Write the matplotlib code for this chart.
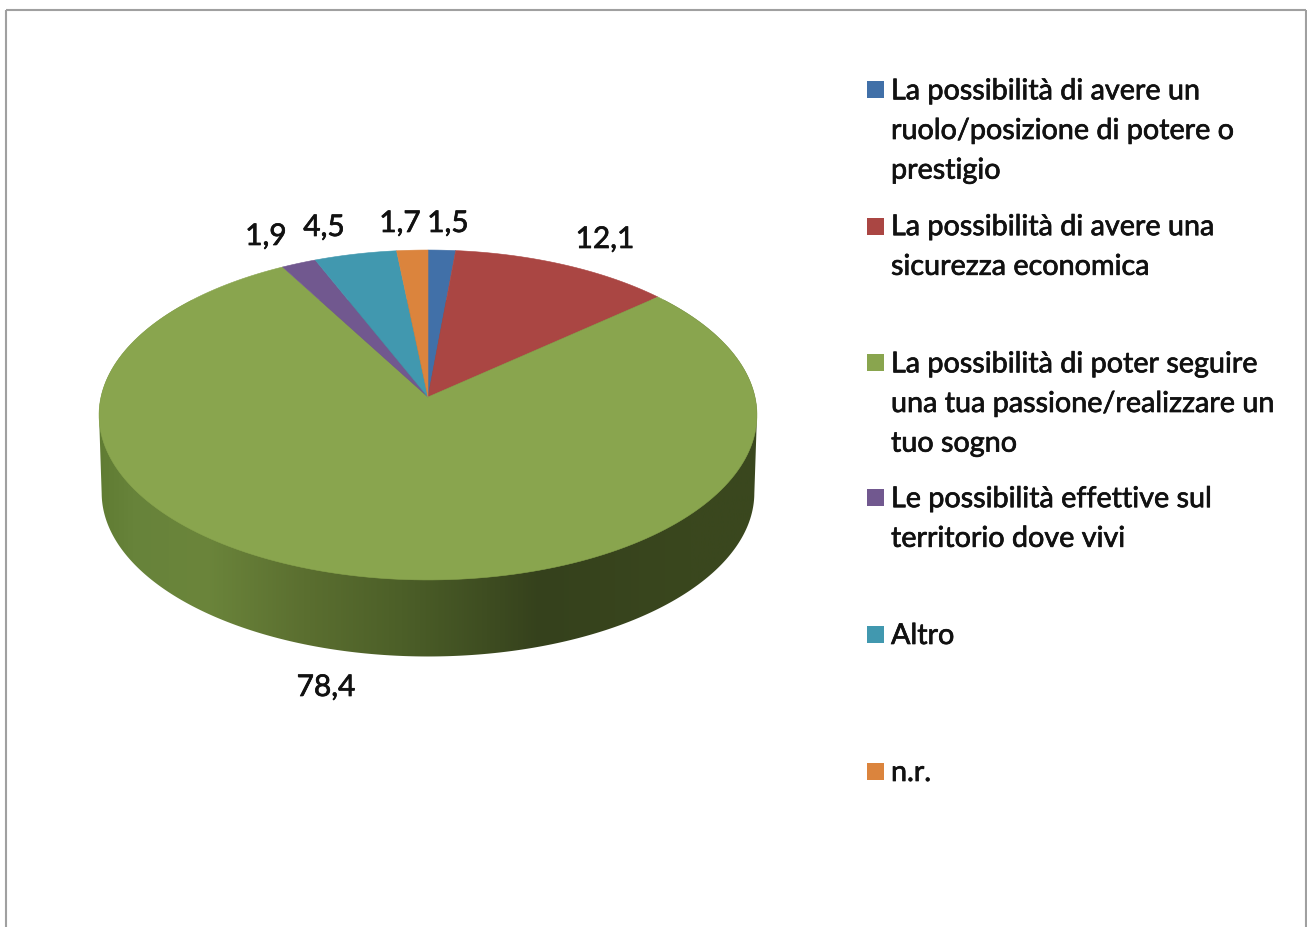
"""3D-looking pie chart with a legend on the right, drawn in pixel coordinates."""

import matplotlib

matplotlib.use("Agg")

import matplotlib.patheffects as pe
import matplotlib.pyplot as plt
import numpy as np
from matplotlib.colors import LinearSegmentedColormap
from matplotlib.patches import Polygon, Rectangle

WIDTH, HEIGHT = 1307, 927
FONT = "Lato"

LEGEND_LABELS = [
    "La possibilità di avere un\nruolo/posizione di potere o\nprestigio",
    "La possibilità di avere una\nsicurezza economica",
    "La possibilità di poter seguire\nuna tua passione/realizzare un\ntuo sogno",
    "Le possibilità effettive sul\nterritorio dove vivi",
    "Altro",
    "n.r.",
]
VALUES = [1.5, 12.1, 78.4, 1.9, 4.5, 1.7]
VALUE_LABELS = ["1,5", "12,1", "78,4", "1,9", "4,5", "1,7"]

COLORS = ["#4170a8", "#aa4643", "#89a54e", "#71588f", "#4198af", "#db843d"]
LABEL_POS = [(448, 223), (605, 239), (326, 687), (266, 236), (324, 227), (400, 223)]
LEGEND_Y = [131, 247, 404, 519, 636, 773]
SWATCH_Y = [89, 226, 362, 497, 634, 771]

# pie geometry, tilted disc seen in perspective
APEX = (428, 397)
RX, RY, TILT = 327, 163, 0.109
DEPTH = 78

WALL_STOPS = [
    (0.00, "#607c33"), (0.05, "#67833a"), (0.16, "#6b853b"), (0.31, "#5b6f30"),
    (0.46, "#4c5f28"), (0.61, "#3c4a20"), (0.67, "#35411c"), (0.90, "#3a471e"),
    (1.00, "#3a481e"),
]


def rim(theta, scale=1.0, shift=0.0):
    # theta runs clockwise from the top of the disc
    w = 1 + TILT * np.cos(theta)
    x = APEX[0] + scale * RX * np.sin(theta) / w
    y = APEX[1] - scale * RY * np.cos(theta) / w + shift
    return np.column_stack([x, y])


fig = plt.figure(figsize=(WIDTH / 100, HEIGHT / 100), dpi=100)
ax = fig.add_axes([0, 0, 1, 1])
ax.set_xlim(0, WIDTH)
ax.set_ylim(HEIGHT, 0)
ax.axis("off")

# frame of the chart area
ax.plot([6, 6], [HEIGHT, 10], color="#a0a0a0", lw=1.5, solid_capstyle="butt")
ax.plot([6, 1306], [10, 10], color="#a0a0a0", lw=1.5, solid_capstyle="butt")
ax.plot([1306, 1306], [10, HEIGHT], color="#a0a0a0", lw=1.5, solid_capstyle="butt")

# side wall: hull of the top rim and the lowered rim, filled with a horizontal gradient
t = np.linspace(0, 2 * np.pi, 721)
top_rim = rim(t)
left = top_rim[:, 0].argmin()
right = top_rim[:, 0].argmax()
hull = np.vstack([rim(t[right:left + 1], scale=0.992, shift=DEPTH), top_rim[left:], top_rim[:right + 1]])
wall_patch = Polygon(hull, closed=True, fc="none", ec="none")
ax.add_patch(wall_patch)
cmap = LinearSegmentedColormap.from_list("wall", WALL_STOPS)
img = ax.imshow(
    np.linspace(0, 1, 512).reshape(1, -1),
    extent=(99, 757, 700, 300),
    cmap=cmap,
    aspect="auto",
    zorder=1,
)
img.set_clip_path(wall_patch)
ax.set_xlim(0, WIDTH)
ax.set_ylim(HEIGHT, 0)

# top face, slices clockwise from 12 o'clock
edges = np.concatenate([[0], np.cumsum(VALUES)]) / np.sum(VALUES) * 2 * np.pi
for start, stop, color in zip(edges[:-1], edges[1:], COLORS):
    arc = rim(np.linspace(start, stop, 200))
    pts = np.vstack([[APEX], arc])
    ax.add_patch(Polygon(pts, closed=True, fc=color, ec=color, lw=0.4, zorder=2))

# slightly heavier text, the original is a blurred screenshot
heavy = [pe.withStroke(linewidth=0.5, foreground="#111111")]

for label, (x, y) in zip(VALUE_LABELS, LABEL_POS):
    ax.text(x, y, label, family=FONT, fontsize=21.5, color="#111111", ha="center", va="center",
            path_effects=heavy, zorder=3)

# legend
for label, color, y, sy in zip(LEGEND_LABELS, COLORS, LEGEND_Y, SWATCH_Y):
    ax.add_patch(Rectangle((867, sy - 8), 17, 17, fc=color, ec="none", zorder=3))
    ax.text(891, y, label, family=FONT, fontsize=20.7, color="#111111", ha="left", va="center",
            linespacing=1.65, path_effects=heavy, zorder=3)

fig.savefig("out.png", dpi=100, facecolor="white")
plt.close(fig)
